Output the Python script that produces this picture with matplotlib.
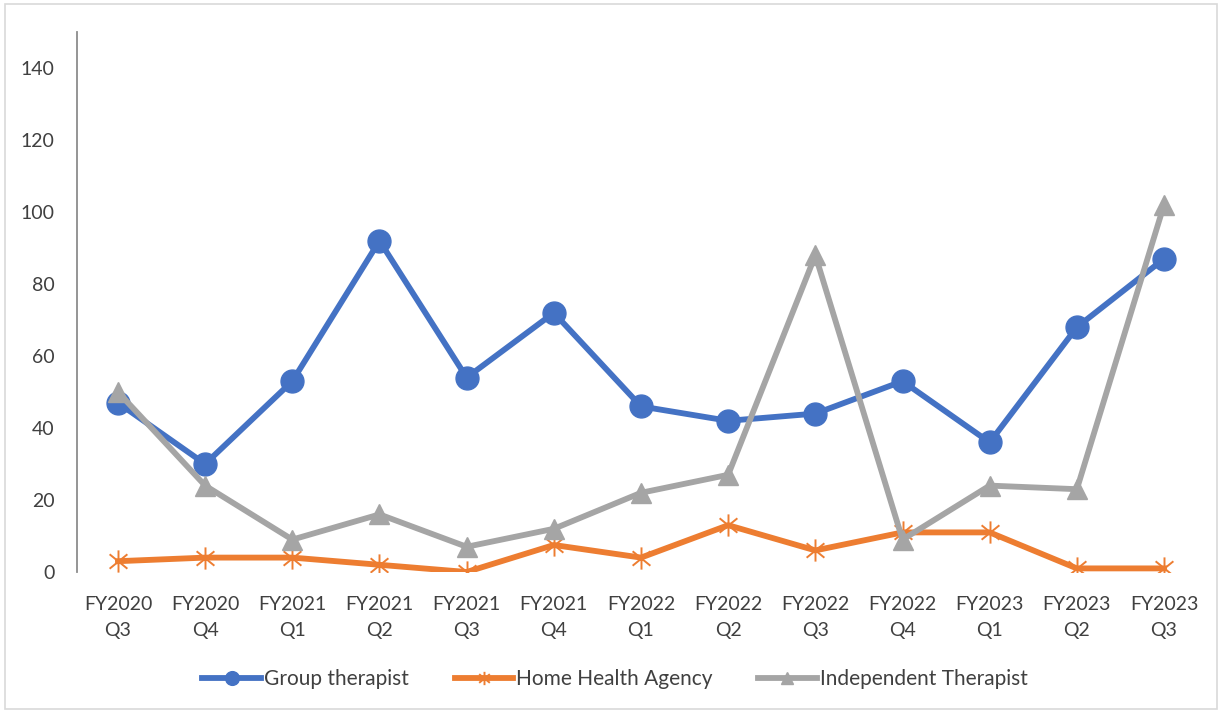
import matplotlib
matplotlib.use("Agg")
import matplotlib.pyplot as plt
from matplotlib.path import Path
from matplotlib.patches import Rectangle

# Quarterly counts by provider type
quarters = ["FY2020\nQ3", "FY2020\nQ4", "FY2021\nQ1", "FY2021\nQ2", "FY2021\nQ3",
            "FY2021\nQ4", "FY2022\nQ1", "FY2022\nQ2", "FY2022\nQ3", "FY2022\nQ4",
            "FY2023\nQ1", "FY2023\nQ2", "FY2023\nQ3"]
group_therapist = [47, 30, 53, 92, 54, 72, 46, 42, 44, 53, 36, 68, 87]
home_health_agency = [3, 4, 4, 2, 0, 7.5, 4, 13, 6, 11, 11, 1, 1]
independent_therapist = [50, 24, 9, 16, 7, 12, 22, 27, 88, 9, 24, 23, 102]
y_ticks = [0, 20, 40, 60, 80, 100, 120, 140]

BLUE = "#4472C4"
ORANGE = "#ED7D31"
GRAY = "#A5A5A5"
TEXT = "#404040"
FS = 14

plt.rcParams["font.family"] = ["Lato", "DejaVu Sans"]

# Excel-style star marker: an "x" with a vertical stroke through it
star = Path(
    [(-0.8, -0.65), (0.8, 0.65), (-0.8, 0.65), (0.8, -0.65), (0, -1), (0, 1)],
    [Path.MOVETO, Path.LINETO, Path.MOVETO, Path.LINETO, Path.MOVETO, Path.LINETO],
)

fig = plt.figure(figsize=(12.22, 7.13), dpi=100)
fig.patches.append(Rectangle((0.004, 0.006), 0.992, 0.989, transform=fig.transFigure,
                             fill=False, edgecolor="#D9D9D9", linewidth=1.2))
ax = fig.add_axes([77 / 1222, (713 - 572) / 713, (1205 - 77) / 1222, (572 - 32) / 713])

x = list(range(len(quarters)))
ax.plot(x, group_therapist, color=BLUE, lw=4.2, marker="o", markersize=16.5,
        markerfacecolor=BLUE, markeredgecolor=BLUE, label="Group therapist",
        solid_joinstyle="round", zorder=3)
ax.plot(x, home_health_agency, color=ORANGE, lw=4.2, marker=star, markersize=16,
        markeredgewidth=1.4, markerfacecolor="none", markeredgecolor=ORANGE,
        label="Home Health Agency", solid_joinstyle="round", zorder=4)
ax.plot(x, independent_therapist, color=GRAY, lw=4.2, marker="^", markersize=15,
        markerfacecolor=GRAY, markeredgecolor=GRAY, label="Independent Therapist",
        solid_joinstyle="round", zorder=5)

ax.set_xlim(-0.47, len(quarters) - 0.53)
ax.set_ylim(0, 150)
ax.set_yticks(y_ticks)
ax.set_xticks(x)
ax.set_xticklabels(quarters, linespacing=1.65)

for side in ("top", "right", "bottom"):
    ax.spines[side].set_visible(False)
ax.spines["left"].set_color("#8C8C8C")
ax.spines["left"].set_linewidth(1.3)
ax.tick_params(axis="both", length=0, colors=TEXT, labelsize=FS)
ax.tick_params(axis="y", pad=16)
ax.tick_params(axis="x", pad=17)
for lbl in ax.get_yticklabels():
    lbl.set_horizontalalignment("right")

leg = fig.legend(loc="center", bbox_to_anchor=(615 / 1222, 1 - 679 / 713), ncol=3,
                 frameon=False, fontsize=15, handlelength=2.8, columnspacing=2.2,
                 handletextpad=0.15, markerscale=0.6)
for t in leg.get_texts():
    t.set_color(TEXT)

fig.savefig("out.png", dpi=100)
